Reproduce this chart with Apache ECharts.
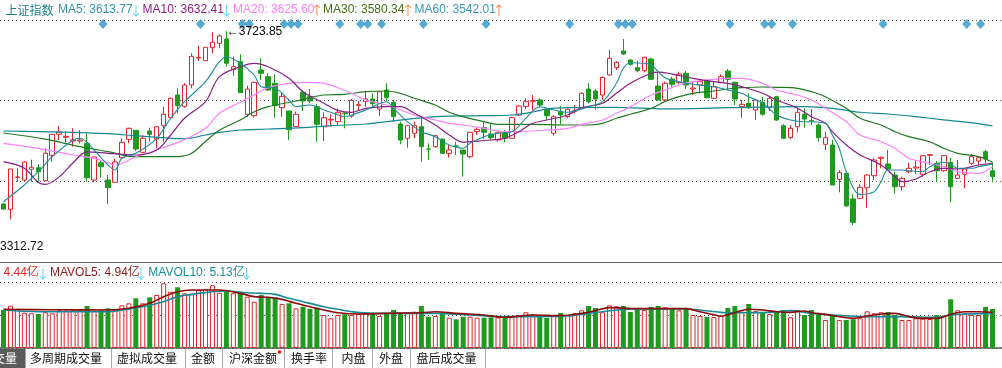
<!DOCTYPE html>
<html><head><meta charset="utf-8">
<script src="https://cdn.jsdelivr.net/npm/echarts@6/dist/echarts.min.js"></script>
<style>html,body{margin:0;padding:0;background:#fff;overflow:hidden}#c{width:1002px;height:368px}</style>
</head><body><div id="c"></div>
<script>
// ---- data (index 0 = partially visible first day) ----
const days = Array.from({length: 143}, (_, i) => 'D' + (i + 1));
const openP = [
3357.5,3346.3,3414.1,3408.4,3431.1,3434.5,3406.9,3460.8,3505.3,3498.9,
3491.1,3491.1,3486.2,3408.4,3445.1,3408.4,3403.5,3455.7,3494.7,3513.8,
3467.1,3512.3,3495.3,3523.5,3540.5,3588.6,3564.6,3609.8,3667.0,3661.3,
3688.9,3698.2,3707.3,3643.1,3659.2,3547.7,3544.7,3641.6,3627.4,3613.4,
3561.7,3554.7,3521.4,3594.3,3585.0,3563.8,3521.4,3535.6,3532.0,3550.4,
3544.1,3566.8,3574.4,3580.1,3558.9,3599.2,3573.1,3527.1,3496.8,3507.4,
3521.4,3474.1,3479.0,3495.3,3465.0,3480.5,3472.0,3457.8,3510.8,3519.3,
3505.9,3493.2,3508.7,3496.8,3546.2,3563.8,3575.2,3578.0,3558.9,3507.4,
3553.2,3542.6,3554.0,3561.7,3601.3,3597.1,3588.6,3631.0,3646.5,3681.9,
3662.8,3646.5,3640.1,3664.9,3607.7,3578.0,3622.5,3615.5,3634.6,3601.3,
3609.8,3618.9,3581.6,3615.5,3639.5,3615.5,3563.8,3571.0,3556.8,3573.1,
3561.7,3585.0,3523.5,3498.1,3521.4,3547.7,3534.1,3525.0,3484.1,3482.6,
3409.9,3422.6,3368.1,3369.6,3392.1,3417.5,3454.4,3442.3,3419.0,3394.2,
3426.0,3433.8,3420.5,3460.8,3443.8,3428.1,3445.9,3412.0,3420.5,3443.8,
3448.7,3468.4,3428.1];
const closeP = [
3346.9,3431.7,3414.8,3446.6,3435.3,3426.0,3465.0,3505.3,3510.2,3501.0,
3493.2,3493.2,3413.3,3457.2,3436.6,3392.1,3446.6,3488.3,3518.0,3474.1,
3496.8,3505.3,3521.4,3547.7,3581.6,3565.9,3609.8,3670.6,3668.5,3689.7,
3700.3,3713.7,3655.8,3648.6,3593.5,3601.3,3615.5,3634.6,3599.2,3565.9,
3585.8,3515.0,3547.7,3575.9,3575.9,3526.5,3540.5,3537.1,3551.9,3549.0,
3577.4,3568.0,3580.1,3570.2,3595.6,3582.9,3542.6,3493.2,3523.5,3523.5,
3479.0,3473.5,3502.3,3465.0,3472.0,3479.8,3463.5,3509.5,3515.9,3509.5,
3498.1,3509.5,3496.8,3540.5,3565.3,3574.4,3576.5,3567.4,3544.7,3542.6,
3546.2,3558.3,3555.3,3592.2,3574.4,3580.1,3626.1,3666.4,3657.9,3675.5,
3653.7,3640.1,3668.5,3621.9,3578.0,3613.4,3611.3,3633.1,3609.8,3603.4,
3616.8,3582.9,3606.2,3627.4,3621.9,3580.1,3568.9,3561.7,3578.0,3547.7,
3581.6,3535.6,3496.8,3518.0,3551.9,3537.7,3533.5,3498.1,3498.1,3397.8,
3423.9,3353.3,3318.7,3392.9,3419.0,3450.8,3456.5,3431.7,3394.2,3412.0,
3433.2,3435.9,3459.9,3462.0,3428.1,3459.9,3394.2,3419.0,3431.7,3457.8,
3455.7,3452.9,3415.4];
const highP = [
3359.6,3431.7,3433.2,3448.7,3451.4,3441.7,3475.6,3505.3,3522.9,3509.5,
3518.0,3514.4,3507.4,3457.2,3450.8,3419.0,3452.9,3496.8,3519.3,3513.8,
3503.8,3519.3,3521.4,3563.8,3582.9,3602.8,3613.4,3677.0,3693.1,3689.7,
3721.5,3717.3,3723.85,3669.8,3674.9,3608.3,3616.8,3666.4,3634.6,3632.5,
3592.2,3554.7,3553.2,3599.2,3601.3,3568.9,3551.9,3547.7,3560.4,3551.9,
3580.1,3575.9,3595.6,3592.2,3595.6,3613.4,3578.0,3532.0,3523.5,3532.0,
3542.6,3486.2,3503.8,3495.3,3482.6,3489.6,3472.0,3510.8,3520.1,3532.0,
3528.6,3509.5,3514.4,3542.6,3567.4,3581.6,3588.6,3581.6,3558.9,3546.2,
3565.9,3560.4,3567.4,3594.3,3613.4,3601.3,3627.4,3684.0,3660.7,3707.3,
3664.3,3660.7,3669.8,3667.7,3636.7,3616.8,3627.4,3638.0,3639.5,3616.8,
3620.4,3620.4,3616.8,3632.5,3643.7,3616.8,3578.0,3592.2,3580.1,3585.0,
3585.0,3587.1,3526.5,3525.0,3561.7,3560.4,3558.9,3528.6,3510.8,3493.2,
3429.6,3424.7,3378.1,3399.3,3420.5,3454.4,3457.8,3472.0,3426.0,3415.4,
3445.1,3450.8,3461.4,3463.5,3448.7,3461.4,3455.7,3450.8,3433.2,3463.5,
3457.8,3472.0,3445.9];
const lowP = [
3344.8,3325.1,3404.8,3404.8,3404.8,3403.5,3406.9,3447.2,3493.2,3488.3,
3479.0,3486.2,3404.8,3403.5,3413.3,3356.9,3403.5,3452.3,3486.2,3469.9,
3465.0,3489.6,3475.6,3489.6,3539.2,3549.8,3561.7,3602.8,3660.7,3660.7,
3677.0,3687.6,3648.6,3629.5,3593.5,3542.6,3540.5,3620.4,3597.1,3540.5,
3542.6,3493.2,3521.4,3554.7,3571.0,3489.6,3491.1,3521.4,3525.0,3518.0,
3540.5,3556.8,3563.8,3561.7,3544.7,3574.4,3532.0,3484.1,3476.9,3496.8,
3447.2,3450.8,3476.9,3463.5,3455.7,3461.4,3415.4,3454.4,3503.8,3495.3,
3493.2,3489.6,3488.3,3495.3,3544.7,3558.9,3556.8,3561.7,3535.6,3502.3,
3526.5,3539.2,3549.8,3560.4,3571.0,3556.8,3578.0,3629.5,3641.6,3673.4,
3650.7,3636.7,3636.7,3620.4,3575.9,3575.9,3606.2,3611.3,3601.3,3588.6,
3592.2,3581.6,3580.1,3613.4,3599.2,3567.4,3540.5,3558.9,3535.6,3544.7,
3554.7,3534.1,3495.3,3495.3,3509.5,3519.3,3525.0,3489.6,3472.0,3397.8,
3382.3,3351.8,3312.72,3368.1,3349.7,3408.4,3433.2,3429.6,3380.2,3385.7,
3422.6,3420.5,3415.4,3440.2,3404.8,3426.0,3361.1,3410.5,3390.8,3440.2,
3438.7,3443.8,3403.5];
// volume, 亿
const volume = [
5.76,6.41,5.91,5.35,5.26,5.15,5.41,5.26,5.71,5.65,
5.71,5.80,6.36,5.65,5.76,6.01,5.76,6.47,6.77,7.53,
6.77,7.68,8.03,9.80,8.53,9.20,8.29,8.14,8.79,8.89,
9.50,8.38,8.53,8.29,8.29,7.77,7.01,8.03,7.68,7.68,
6.67,6.77,6.01,6.26,5.91,6.11,5.00,4.50,5.00,5.11,
5.00,5.15,5.26,5.35,4.85,5.15,5.76,5.26,5.35,5.50,
6.36,4.74,4.85,5.35,4.59,4.35,4.74,4.74,4.59,4.59,
4.65,4.65,4.65,4.74,4.95,5.41,5.11,4.74,4.55,4.85,
5.30,4.95,5.26,5.71,6.36,6.06,5.41,6.47,6.32,6.36,
5.45,5.86,5.76,6.21,6.36,6.17,6.01,5.71,5.91,5.00,
4.85,4.70,4.70,4.85,6.06,6.36,5.50,6.67,5.61,5.41,
5.15,5.61,5.76,4.65,5.76,5.00,5.76,5.00,4.24,5.00,
4.24,4.24,4.35,4.50,5.56,5.26,5.41,5.45,5.00,4.24,
4.24,4.50,4.44,4.39,5.00,4.89,7.38,5.71,5.26,5.00,
5.00,6.21,5.91];
// moving-average lines: [day index, value]
const ma5 = [[0,3362.4],[3,3397.8],[5,3426.0],[7,3457.8],[10,3493.2],[11,3496.8],[13,3472.0],[15,3440.2],[16,3429.6],[17,3454.4],[19,3465.0],[22,3496.8],[24,3539.2],[26,3574.4],[29,3616.8],[31,3659.2],[32,3669.8],[34,3655.8],[36,3631.0],[37,3606.2],[39,3602.8],[41,3578.0],[42,3563.8],[44,3567.4],[46,3556.8],[47,3551.9],[49,3543.0],[50,3546.2],[52,3556.8],[55,3574.4],[56,3560.4],[58,3532.0],[60,3510.8],[62,3500.2],[64,3482.6],[66,3475.6],[67,3486.2],[69,3500.2],[71,3507.4],[73,3510.8],[75,3539.2],[77,3563.8],[79,3556.8],[81,3551.9],[82,3554.7],[84,3563.8],[86,3574.4],[88,3613.4],[89,3645.2],[90,3657.1],[92,3655.8],[93,3652.2],[95,3625.0],[97,3616.8],[99,3611.3],[102,3606.2],[104,3599.2],[106,3592.2],[107,3585.0],[109,3571.0],[111,3546.2],[113,3535.6],[115,3532.0],[116,3532.0],[118,3528.6],[119,3503.8],[120,3475.6],[121,3426.0],[123,3378.0],[125,3383.6],[126,3404.8],[127,3429.6],[129,3429.6],[130,3428.1],[132,3426.0],[133,3436.6],[135,3445.9],[136,3441.7],[137,3433.2],[139,3433.2],[140,3436.6],[142,3442.0]];
const ma10 = [[0,3447.2],[3,3433.2],[5,3403.0],[6,3399.0],[8,3415.0],[10,3445.0],[12,3468.0],[15,3465.0],[17,3462.9],[19,3461.4],[22,3472.0],[24,3503.8],[26,3539.2],[29,3574.4],[31,3627.4],[34,3648.6],[36,3655.8],[38,3648.6],[41,3624.0],[43,3595.6],[46,3571.0],[48,3556.0],[50,3551.9],[52,3560.4],[55,3563.8],[57,3563.8],[59,3549.8],[62,3525.0],[64,3503.8],[66,3488.3],[67,3489.6],[70,3493.2],[72,3496.8],[74,3510.8],[76,3528.6],[78,3535.6],[81,3546.2],[83,3561.7],[86,3571.0],[88,3592.2],[90,3613.4],[93,3634.6],[94,3637.0],[96,3633.0],[99,3624.0],[102,3616.8],[104,3613.4],[106,3606.2],[109,3592.2],[111,3578.0],[114,3560.4],[116,3542.6],[118,3528.6],[119,3510.8],[121,3482.6],[123,3461.4],[126,3440.2],[128,3415.4],[129,3404.8],[131,3410.5],[133,3426.0],[135,3433.2],[137,3431.7],[140,3440.2],[142,3443.8]];
const ma20 = [[0,3486.2],[5,3475.6],[10,3461.4],[13,3454.4],[15,3445.1],[16,3440.2],[19,3457.8],[22,3472.0],[26,3494.0],[29,3518.0],[31,3549.8],[34,3573.1],[36,3588.6],[38,3604.1],[41,3613.4],[43,3615.5],[46,3613.4],[48,3604.0],[50,3592.2],[52,3578.0],[55,3567.4],[57,3556.8],[59,3546.2],[62,3535.6],[64,3528.6],[66,3525.0],[69,3518.0],[71,3512.3],[74,3510.8],[76,3512.3],[78,3514.4],[81,3518.0],[83,3526.5],[86,3535.6],[88,3549.8],[90,3563.8],[93,3588.6],[95,3599.2],[97,3609.8],[99,3616.8],[102,3621.9],[104,3624.0],[106,3624.0],[109,3613.4],[111,3599.2],[114,3588.6],[116,3578.0],[118,3560.4],[121,3532.0],[123,3503.8],[126,3489.6],[128,3475.6],[130,3454.4],[133,3443.8],[135,3436.6],[137,3426.0],[140,3422.6],[142,3436.6]];
const ma30 = [[0,3508.0],[6,3495.0],[11,3479.0],[15,3468.4],[19,3457.8],[25,3457.8],[27,3465.0],[29,3490.0],[31,3514.0],[34,3535.6],[36,3553.2],[38,3563.8],[42,3575.9],[46,3588.6],[49,3590.0],[52,3595.6],[55,3597.1],[57,3592.2],[59,3581.6],[62,3567.4],[64,3551.9],[66,3542.6],[69,3532.0],[71,3526.5],[76,3526.5],[81,3525.0],[84,3525.0],[86,3528.6],[88,3539.2],[90,3547.7],[93,3560.4],[95,3575.0],[97,3585.0],[99,3592.2],[102,3597.1],[104,3601.3],[106,3604.1],[109,3605.6],[111,3604.9],[114,3602.8],[116,3595.6],[118,3585.0],[121,3560.4],[123,3539.2],[126,3525.0],[128,3510.8],[130,3500.2],[133,3489.6],[135,3475.6],[137,3465.0],[140,3457.8],[142,3445.9]];
const ma60 = [[0,3512.3],[5,3510.8],[10,3509.5],[15,3506.6],[19,3502.3],[24,3496.8],[26,3496.0],[29,3503.8],[31,3509.5],[34,3514.4],[38,3516.5],[43,3519.3],[47,3523.5],[52,3527.1],[55,3532.0],[62,3542.6],[69,3544.7],[73,3546.2],[76,3552.6],[78,3558.9],[81,3561.7],[88,3562.5],[95,3559.0],[104,3561.7],[115,3563.8],[119,3560.4],[123,3552.0],[127,3548.3],[131,3542.6],[135,3536.0],[140,3528.0],[142,3522.9]];
const mavol5 = [[0,5.86],[7,5.80],[15,5.76],[18,6.01],[21,6.77],[23,7.78],[25,8.53],[27,8.79],[31,8.79],[34,8.28],[36,7.78],[38,7.68],[40,7.37],[42,6.77],[44,6.26],[46,5.76],[48,5.35],[51,5.15],[55,5.25],[60,5.35],[62,5.50],[65,5.25],[69,5.00],[72,4.65],[76,5.00],[80,4.90],[83,5.25],[85,5.66],[87,6.11],[91,5.96],[98,5.96],[100,5.50],[102,5.05],[103,4.82],[104,5.05],[105,5.35],[107,5.86],[109,5.76],[111,5.50],[113,5.40],[115,5.61],[116,5.35],[118,5.10],[120,4.75],[122,4.49],[124,4.85],[126,5.15],[128,5.25],[130,4.75],[132,4.49],[134,4.49],[136,5.10],[138,5.50],[140,5.50],[142,5.40]];
const mavol10 = [[0,5.76],[5,5.50],[15,5.50],[17,5.76],[20,6.26],[23,7.02],[25,7.78],[28,8.28],[30,8.53],[32,8.63],[35,8.38],[37,8.28],[39,8.13],[41,7.53],[43,7.02],[46,6.26],[48,5.86],[50,5.50],[53,5.25],[62,5.25],[67,5.00],[72,4.75],[76,4.75],[81,4.85],[84,5.25],[86,5.50],[88,5.76],[91,5.91],[98,5.91],[100,5.76],[103,5.40],[105,5.35],[110,5.40],[113,5.66],[116,5.25],[119,5.00],[124,4.75],[129,4.75],[134,4.65],[136,5.00],[138,5.15],[142,5.25]];
const signalDays = [14,28,34,35,40,41,42,48,51,52,54,60,69,81,88,89,90,104,109,110,113,126,138,140];
const maxPoint = {day: 32, value: 3723.85};
const minLabel = '3312.72';
const maLegend = [
  {t: 'MA5: 3613.77', x: 58, c: '#3296a8', arr: '↓', ac: '#5fd4f0', ax: 133},
  {t: 'MA10: 3632.41', x: 142.5, c: '#8b1f82', arr: '↓', ac: '#5fd4f0', ax: 223.5},
  {t: 'MA20: 3625.60', x: 233, c: '#ff80ff', arr: '↑', ac: '#ff8450', ax: 314},
  {t: 'MA30: 3580.34', x: 323, c: '#4c6a16', arr: '↑', ac: '#ff8450', ax: 405},
  {t: 'MA60: 3542.01', x: 414.5, c: '#3a98b8', arr: '↑', ac: '#ff8450', ax: 496}
];
const volLegend = [
  {t: '4.44亿', x: 3.5, c: '#e42424', arr: '↓', ac: '#5fd4f0', ax: 40},
  {t: 'MAVOL5: 4.94亿', x: 50, c: '#8e1c1c', arr: '↓', ac: '#5fd4f0', ax: 138},
  {t: 'MAVOL10: 5.13亿', x: 148.3, c: '#18909c', arr: '↓', ac: '#5fd4f0', ax: 243.5}
];
const tabs = [
  {t: '多周期成交量', x: 30}, {t: '虚拟成交量', x: 117}, {t: '金额', x: 191},
  {t: '沪深金额', x: 229}, {t: '换手率', x: 291}, {t: '内盘', x: 341.5},
  {t: '外盘', x: 379}, {t: '盘后成交量', x: 416.5}
];
const tabSeps = [25.5, 111.5, 185.5, 222.5, 284.5, 332.5, 372.5, 410.5, 485.5];

// ---- chart ----
const FONT = "'Liberation Sans','Noto Sans CJK SC',sans-serif";
const CJK = "'Noto Sans CJK SC','Liberation Sans',sans-serif";
const RED = '#e0242a', GREEN = '#1f9a1f';
const chart = echarts.init(document.getElementById('c'));
const candleData = openP.map((o, i) => [o, closeP[i], lowP[i], highP[i]]);
const volData = volume.map((v, i) => ({
  value: v,
  itemStyle: closeP[i] >= openP[i]
    ? {color: '#ffffff', borderColor: RED, borderWidth: 1}
    : {color: GREEN, borderColor: GREEN, borderWidth: 0}
}));
const pts = arr => arr.map(p => [days[p[0]], p[1]]);
function maLine(name, data, color, width, xi, yi) {
  return {name, type: 'line', xAxisIndex: xi, yAxisIndex: yi, data: pts(data),
    showSymbol: false, symbol: 'none', smooth: 0.35, z: 5,
    lineStyle: {color, width}, silent: true};
}
const graphics = [];
graphics.push({type: 'text', x: 5.5, y: 10, style: {text: '上证指数', fill: '#1d7f8a', font: '12px ' + CJK, textVerticalAlign: 'middle', verticalAlign: 'middle'}});
maLegend.concat(volLegend).forEach((l, idx) => {
  const y = idx < maLegend.length ? 10 : 272.5;
  graphics.push({type: 'text', x: l.x, y, style: {text: l.t, fill: l.c, font: '12px ' + FONT, textVerticalAlign: 'middle', verticalAlign: 'middle'}});
  graphics.push({type: 'text', x: l.ax + 3, y: y + 0.5, style: {text: l.arr, fill: l.ac, font: '13px ' + CJK, textAlign: 'center', align: 'center', textVerticalAlign: 'middle', verticalAlign: 'middle'}});
});
graphics.push({type: 'text', x: 0, y: 247, style: {text: minLabel, fill: '#111', font: '12px ' + FONT, textVerticalAlign: 'middle', verticalAlign: 'middle'}});
// tab strip
graphics.push({type: 'rect', shape: {x: 0, y: 349, width: 25, height: 19}, style: {fill: '#5b5b5b'}});
graphics.push({type: 'text', x: 17, y: 358.5, style: {text: '成交量', fill: '#ffffff', font: '12px ' + CJK, textAlign: 'right', align: 'right', textVerticalAlign: 'middle', verticalAlign: 'middle'}});
tabs.forEach(t => graphics.push({type: 'text', x: t.x, y: 358.5, style: {text: t.t, fill: '#111', font: '12px ' + CJK, textVerticalAlign: 'middle', verticalAlign: 'middle'}}));
tabSeps.forEach(x => graphics.push({type: 'line', shape: {x1: x, y1: 349, x2: x, y2: 368}, style: {stroke: '#a9a9a9', lineWidth: 1}}));
graphics.push({type: 'circle', shape: {cx: 279.5, cy: 352, r: 1.8}, style: {fill: '#e01010'}});

const hidden = {show: false};
const option = {
  animation: false,
  backgroundColor: '#ffffff',
  grid: [
    {left: 0, right: 0, top: 20, height: 242},
    {left: -5, right: 6, top: 20, height: 242},
    {left: 0, right: 0, top: 282, height: 66},
    {left: -5, right: 6, top: 282, height: 66},
    {left: -5, right: 6, top: 20, height: 8}
  ],
  xAxis: [
    {gridIndex: 0, type: 'value', min: 0, max: 1, axisLine: {show: true, lineStyle: {color: '#666', width: 1}}, axisTick: hidden, axisLabel: hidden, splitLine: hidden},
    {gridIndex: 1, type: 'category', data: days, show: false},
    {gridIndex: 2, type: 'value', min: 0, max: 1, axisLine: {show: true, lineStyle: {color: '#555', width: 1.5}}, axisTick: hidden, axisLabel: hidden, splitLine: hidden},
    {gridIndex: 3, type: 'category', data: days, show: false},
    {gridIndex: 4, type: 'category', data: days, show: false}
  ],
  yAxis: [
    {gridIndex: 0, type: 'value', min: 0, max: 3, interval: 1, axisLine: hidden, axisTick: hidden, axisLabel: hidden, splitLine: {show: true, lineStyle: {color: '#555', width: 1, type: [1, 3]}}},
    {gridIndex: 1, type: 'value', min: 3234.56, max: 3747.6, show: false},
    {gridIndex: 2, type: 'value', min: 0, max: 10, interval: 5, axisLine: hidden, axisTick: hidden, axisLabel: hidden, splitLine: {show: true, lineStyle: {color: '#555', width: 1, type: [1, 3]}}},
    {gridIndex: 3, type: 'value', min: 0, max: 10, show: false},
    {gridIndex: 4, type: 'value', min: 0, max: 1, show: false}
  ],
  series: [
    {type: 'candlestick', xAxisIndex: 1, yAxisIndex: 1, data: candleData, barWidth: 5, z: 3,
      itemStyle: {color: '#ffffff', color0: GREEN, borderColor: RED, borderColor0: GREEN, borderWidth: 1},
      markPoint: {symbol: 'circle', symbolSize: 1, itemStyle: {color: 'rgba(0,0,0,0)'},
        label: {show: true, position: 'right', distance: 0, formatter: '←' + maxPoint.value.toFixed(2), color: '#000', fontSize: 12, fontFamily: FONT},
        data: [{coord: [days[maxPoint.day], maxPoint.value]}]}},
    maLine('MA60', ma60, '#138791', 1.2, 1, 1),
    maLine('MA30', ma30, '#1f7a1f', 1.2, 1, 1),
    maLine('MA20', ma20, '#ff80ff', 1.2, 1, 1),
    maLine('MA10', ma10, '#8a1f86', 1.2, 1, 1),
    maLine('MA5', ma5, '#1e8e98', 1.1, 1, 1),
    {type: 'bar', xAxisIndex: 3, yAxisIndex: 3, data: volData, barWidth: 5, z: 3},
    maLine('MAVOL10', mavol10, '#188a96', 1.6, 3, 3),
    maLine('MAVOL5', mavol5, '#8b0a0a', 1.6, 3, 3),
    {type: 'scatter', xAxisIndex: 4, yAxisIndex: 4, symbol: 'diamond', symbolSize: [9, 10], symbolOffset: [2, 0],
      itemStyle: {color: '#2b95c8'}, data: signalDays.map(d => [days[d], 0.5])}
  ],
  graphic: graphics
};
chart.setOption(option);
</script>
</body></html>
